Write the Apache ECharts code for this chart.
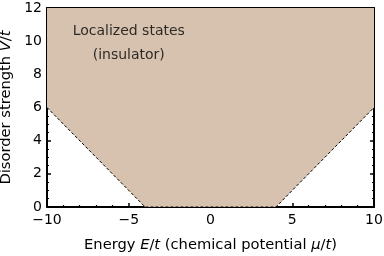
<!DOCTYPE html>
<html><head><meta charset="utf-8">
<script src="https://cdn.jsdelivr.net/npm/echarts@6/dist/echarts.min.js"></script>
<style>html,body{margin:0;padding:0;background:#fff}#c{width:384px;height:256px}</style>
</head><body><div id="c"></div>
<script>
// Boundary of localized region (energy E/t, disorder V/t)
const boundaryE = [-10, -4, 4, 10];
const boundaryV = [6, 0, 0, 6];
const xTicks = [-10, -5, 0, 5, 10];
const yTicks = [0, 2, 4, 6, 8, 10, 12];
const regionLabel = ['Localized states', '(insulator)'];
const labelE = [-5, -5];
const labelV = [10.6, 9.15];

const chart = echarts.init(document.getElementById('c'), null, {renderer: 'canvas'});
const F = 'DejaVu Sans';
const fmtX = v => (v < 0 ? '\u2212' + Math.abs(v) : String(v));
const axisCommon = {
  axisLine: {show: true, onZero: false, lineStyle: {color: '#000', width: 2}},
  axisTick: {show: true, inside: true, length: 4, lineStyle: {color: '#000', width: 1.5}},
  minorTick: {show: true, length: 2, lineStyle: {color: '#000', width: 1.2}},
  splitLine: {show: false}
};
const rich = {n: {fontFamily: F, fontSize: 14.7, color: '#000'}, i: {fontFamily: F, fontSize: 14.7, fontStyle: 'italic', color: '#000'}};
chart.setOption({
  animation: false,
  grid: {left: 47, right: 10, top: 8, bottom: 49, containLabel: false, outerBoundsMode: 'none'},
  xAxis: [
    Object.assign({type: 'value', min: xTicks[0], max: xTicks[xTicks.length-1], interval: 5,
      position: 'bottom',
      axisLabel: {color: '#000', fontFamily: F, fontSize: 14, margin: 6, formatter: fmtX},
      name: '{n|Energy }{i|E}{n|/}{i|t}{n| (chemical potential }{i|\u03bc}{n|/}{i|t}{n|)}',
      nameLocation: 'middle', nameGap: 31,
      nameTextStyle: {rich: rich}
    }, axisCommon, {minorTick: Object.assign({}, axisCommon.minorTick, {splitNumber: 5})}),
    Object.assign({type: 'value', min: -10, max: 10, interval: 5, position: 'top',
      axisLabel: {show: false}}, axisCommon, {minorTick: Object.assign({}, axisCommon.minorTick, {splitNumber: 5})})
  ],
  yAxis: [
    Object.assign({type: 'value', min: yTicks[0], max: yTicks[yTicks.length-1], interval: 2,
      position: 'left',
      axisLabel: {color: '#000', fontFamily: F, fontSize: 14, margin: 5},
      name: '{n|Disorder strength }{i|V}{n|/}{i|t}',
      nameLocation: 'middle', nameGap: 25, nameRotate: 90,
      nameTextStyle: {rich: rich}
    }, axisCommon, {minorTick: Object.assign({}, axisCommon.minorTick, {splitNumber: 4})}),
    Object.assign({type: 'value', min: 0, max: 12, interval: 2, position: 'right',
      axisLabel: {show: false}}, axisCommon, {minorTick: Object.assign({}, axisCommon.minorTick, {splitNumber: 4})})
  ],
  series: [{
    type: 'line',
    data: boundaryE.map((e, i) => [e, boundaryV[i]]),
    symbol: 'none',
    lineStyle: {color: '#000', width: 1, type: [3, 2]},
    areaStyle: {color: '#d6c2ae', opacity: 1, origin: 'end'},
    z: 1
  }, {
    type: 'scatter',
    data: labelE.map((e, i) => [e, labelV[i]]),
    symbolSize: 0,
    label: {show: true, position: 'inside', color: '#000', fontFamily: F, fontSize: 14,
      formatter: p => regionLabel[p.dataIndex]},
    z: 3
  }]
});
</script></body></html>
